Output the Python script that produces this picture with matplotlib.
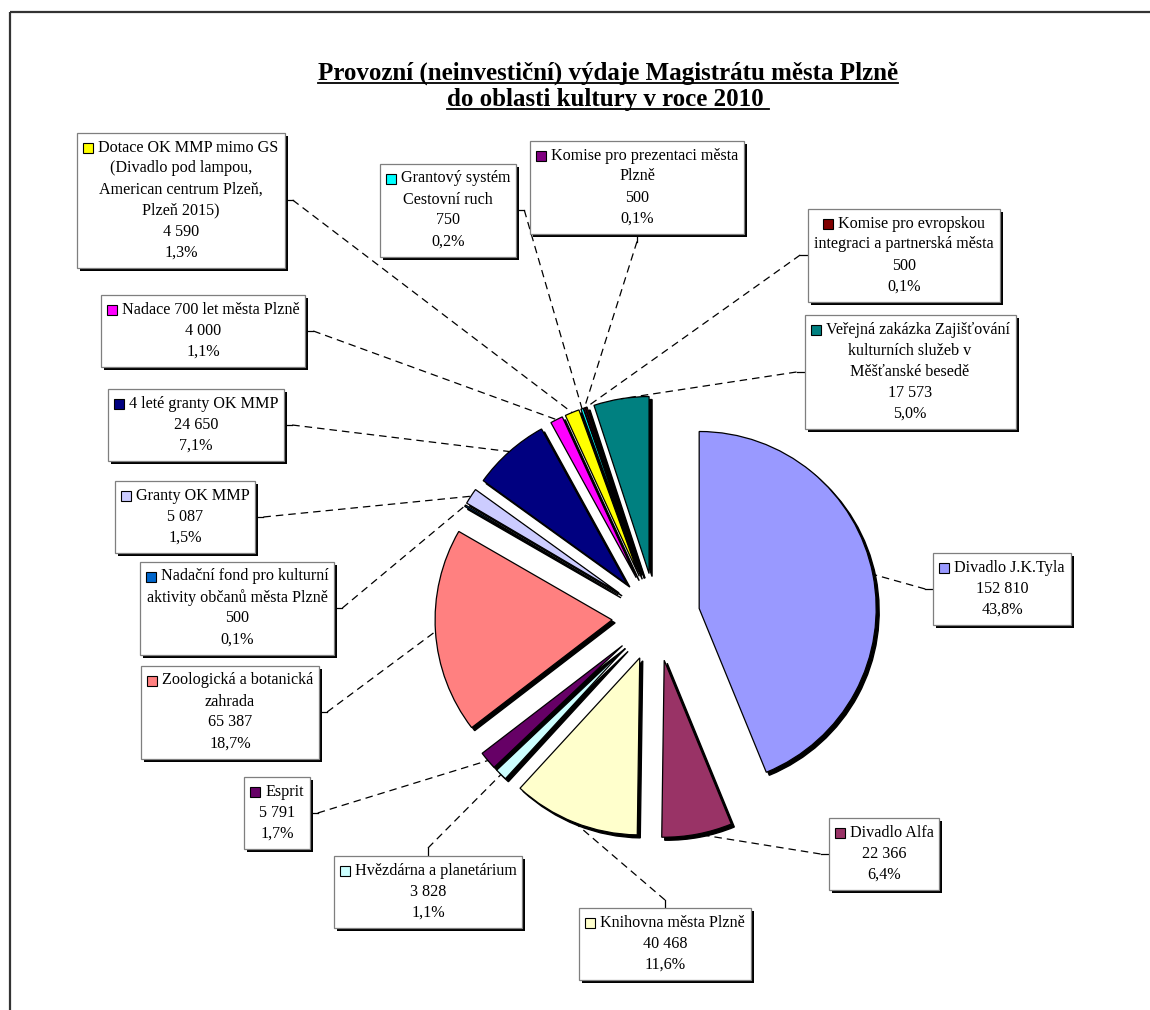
import matplotlib
matplotlib.use("Agg")
import matplotlib.pyplot as plt
from matplotlib.patches import Rectangle
import numpy as np

# ---------------- data ----------------
categories = [
    "Divadlo J.K.Tyla",
    "Divadlo Alfa",
    "Knihovna města Plzně",
    "Hvězdárna a planetárium",
    "Esprit",
    "Zoologická a botanická zahrada",
    "Nadační fond pro kulturní aktivity občanů města Plzně",
    "Granty OK MMP",
    "4 leté granty OK MMP",
    "Nadace 700 let města Plzně",
    "Dotace OK MMP mimo GS (Divadlo pod lampou, American centrum Plzeň, Plzeň 2015)",
    "Grantový systém Cestovní ruch",
    "Komise pro prezentaci města Plzně",
    "Komise pro evropskou integraci a partnerská města",
    "Veřejná zakázka Zajišťování kulturních služeb v Měšťanské besedě",
]
values = [152810, 22366, 40468, 3828, 5791, 65387, 500, 5087, 24650, 4000,
          4590, 750, 500, 500, 17573]
label_lines = [
    ["Divadlo J.K.Tyla"],
    ["Divadlo Alfa"],
    ["Knihovna města Plzně"],
    ["Hvězdárna a planetárium"],
    ["Esprit"],
    ["Zoologická a botanická", "zahrada"],
    ["Nadační fond pro kulturní", "aktivity občanů města Plzně"],
    ["Granty OK MMP"],
    ["4 leté granty OK MMP"],
    ["Nadace 700 let města Plzně"],
    ["Dotace OK MMP mimo GS", "(Divadlo pod lampou,", "American centrum Plzeň,", "Plzeň 2015)"],
    ["Grantový systém", "Cestovní ruch"],
    ["Komise pro prezentaci města", "Plzně"],
    ["Komise pro evropskou", "integraci a partnerská města"],
    ["Veřejná zakázka Zajišťování", "kulturních služeb v", "Měšťanské besedě"],
]
colors = ["#9999FF", "#993366", "#FFFFCC", "#CCFFFF", "#660066", "#FF8080",
          "#0066CC", "#CCCCFF", "#000080", "#FF00FF", "#FFFF00", "#00FFFF",
          "#800080", "#800000", "#008080"]
title_lines = ["Provozní (neinvestiční) výdaje Magistrátu města Plzně",
               "do oblasti kultury v roce 2010 "]

# ---------------- layout ----------------
W, H = 1150, 1010
def Y(y):
    return H - y

box_centers = [(1002, 589), (884, 854), (665, 944), (428, 892), (277, 813),
               (230, 712), (237, 608), (185, 517), (196, 425), (203, 331),
               (181, 200), (448, 210), (637, 187), (904, 255), (910, 372)]
attach = ["l", "l", "t", "t", "r", "r", "r", "r", "r", "r",
          "r", "r", "b", "l", "l"]

FONT = ["Liberation Serif", "DejaVu Serif"]
fs = 11.6
lh = 21.0

fig = plt.figure(figsize=(W / 100, H / 100), dpi=100)
ax = fig.add_axes([0, 0, 1, 1])

n = len(values)
pc = (656, Y(617))
R = 177
EX = 44

# shadow pie
ax.pie(values, colors=["black"] * n, startangle=90, counterclock=False,
       explode=[EX] * n, radius=R, center=(pc[0] + 3, pc[1] - 3),
       wedgeprops=dict(edgecolor="black", linewidth=1.0))
wedges, _ = ax.pie(values, colors=colors, startangle=90, counterclock=False,
                   explode=[EX] * n, radius=R, center=pc,
                   wedgeprops=dict(edgecolor="black", linewidth=0.9))

ax.set_xlim(0, W)
ax.set_ylim(0, H)
ax.set_aspect("auto")
ax.axis("off")

renderer = fig.canvas.get_renderer()
total = float(sum(values))

def fmt_val(v):
    return f"{v:,}".replace(",", " ")

def fmt_pct(v):
    return f"{100 * v / total:.1f}%".replace(".", ",")

key = 10
gap = 5
pad = 6
for i in range(n):
    lines = label_lines[i] + [fmt_val(values[i]), fmt_pct(values[i])]
    cx, cy = box_centers[i]
    nl = len(lines)
    y0 = cy - (nl - 1) * lh / 2.0
    texts = []
    for k, line in enumerate(lines):
        t = ax.text(cx, Y(y0 + k * lh), line, ha="center", va="center",
                    fontsize=fs, family=FONT, color="black", zorder=6)
        texts.append(t)
    widths = [t.get_window_extent(renderer).width for t in texts]
    w0 = widths[0]
    texts[0].set_x(cx + (key + gap) / 2.0)
    kx = cx + (key + gap) / 2.0 - w0 / 2.0 - gap - key
    ax.add_patch(Rectangle((kx, Y(y0) - key / 2.0), key, key,
                           facecolor=colors[i], edgecolor="black",
                           linewidth=0.8, zorder=6))
    bw = max([w0 + key + gap] + widths[1:]) + 2 * pad
    bh = nl * lh + 9
    # shadow + box
    ax.add_patch(Rectangle((cx - bw / 2 + 3, Y(cy + bh / 2) - 3), bw, bh,
                           facecolor="black", edgecolor="none", zorder=4))
    ax.add_patch(Rectangle((cx - bw / 2, Y(cy + bh / 2)), bw, bh,
                           facecolor="white", edgecolor="#7f7f7f",
                           linewidth=0.9, zorder=5))
    # leader line
    a = attach[i]
    if a == "l":
        p0 = (cx - bw / 2, Y(cy)); p1 = (p0[0] - 8, p0[1])
    elif a == "r":
        p0 = (cx + bw / 2, Y(cy)); p1 = (p0[0] + 8, p0[1])
    elif a == "t":
        p0 = (cx, Y(cy - bh / 2)); p1 = (p0[0], p0[1] + 8)
    else:
        p0 = (cx, Y(cy + bh / 2)); p1 = (p0[0], p0[1] - 8)
    w = wedges[i]
    mid = np.deg2rad((w.theta1 + w.theta2) / 2.0)
    p2 = (w.center[0] + w.r * np.cos(mid), w.center[1] + w.r * np.sin(mid))
    ax.plot([p0[0], p1[0]], [p0[1], p1[1]], color="black", lw=0.9, zorder=3)
    ax.plot([p1[0], p2[0]], [p1[1], p2[1]], color="black", lw=0.9,
            linestyle=(0, (6, 4)), zorder=3)

# title with underline
for k, (line, yb) in enumerate(zip(title_lines, [80, 106])):
    t = ax.text(608, Y(yb), line, ha="center", va="baseline", fontsize=18,
                fontweight="bold", family=FONT, color="black", zorder=6)
    bb = t.get_window_extent(renderer)
    ax.plot([bb.x0, bb.x1], [Y(yb + 3), Y(yb + 3)], color="black", lw=1.3,
            zorder=6)

# outer frame (partially visible)
ax.plot([10, W], [Y(12), Y(12)], color="#333333", lw=1.6, zorder=7,
        solid_capstyle="butt")
ax.plot([10, 10], [Y(12), 0], color="#333333", lw=1.6, zorder=7,
        solid_capstyle="butt")

fig.savefig("out.png", dpi=100, facecolor="white")
